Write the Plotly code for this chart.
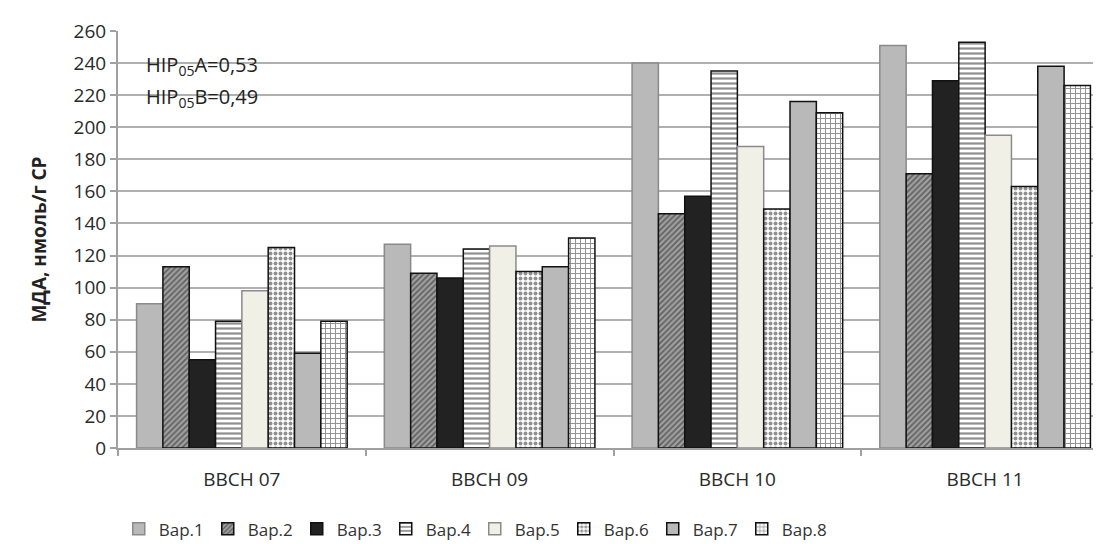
import plotly.graph_objects as go

categories = ["BBCH 07", "BBCH 09", "BBCH 10", "BBCH 11"]
series_names = ["Вар.1", "Вар.2", "Вар.3", "Вар.4", "Вар.5", "Вар.6", "Вар.7", "Вар.8"]

var1 = [90, 127, 240, 251]
var2 = [113, 109, 146, 171]
var3 = [55, 106, 157, 229]
var4 = [79, 124, 235, 253]
var5 = [98, 126, 188, 195]
var6 = [125, 110, 149, 163]
var7 = [59, 113, 216, 238]
var8 = [79, 131, 209, 226]
values = [var1, var2, var3, var4, var5, var6, var7, var8]

y_ticks = list(range(0, 261, 20))

styles = [
    dict(color="#b9b9b9", line=dict(color="#8a8a8a", width=1.5)),
    dict(color="#7a7a7a", line=dict(color="#111111", width=1.5),
         pattern=dict(shape="/", fgcolor="#222222", bgcolor="#a0a0a0", size=4, solidity=0.45)),
    dict(color="#222222", line=dict(color="#111111", width=1.5)),
    dict(color="#ffffff", line=dict(color="#111111", width=1.5),
         pattern=dict(shape="-", fgcolor="#222222", bgcolor="#ffffff", size=5, solidity=0.45)),
    dict(color="#f1f0e6", line=dict(color="#8a8a8a", width=1.5)),
    dict(color="#ffffff", line=dict(color="#111111", width=1.5),
         pattern=dict(shape=".", fgcolor="#222222", bgcolor="#ffffff", size=5, solidity=0.5)),
    dict(color="#b9b9b9", line=dict(color="#111111", width=1.5)),
    dict(color="#ffffff", line=dict(color="#111111", width=1.5),
         pattern=dict(shape="+", fgcolor="#222222", bgcolor="#ffffff", size=5, solidity=0.35)),
]

fig = go.Figure()
for name, vals, st in zip(series_names, values, styles):
    fig.add_trace(go.Bar(x=categories, y=vals, name=name, marker=st))

font_family = "Open Sans"

fig.update_layout(
    width=1101, height=544,
    margin=dict(l=110, r=0, t=23, b=104),
    barmode="group", bargap=0.15, bargroupgap=0,
    plot_bgcolor="white", paper_bgcolor="white",
    font=dict(family=font_family, color="#333333", size=16),
    legend=dict(orientation="h", x=0.36, xanchor="center", y=-0.195, yanchor="middle",
                font=dict(size=17, color="#333333"), itemwidth=30, entrywidth=44,
                traceorder="normal"),
    annotations=[
        dict(text="HIP<sub>05</sub>A=0,53", x=0.026, y=0.918, xref="paper", yref="paper",
             xanchor="left", yanchor="middle", showarrow=False,
             font=dict(size=20, color="#222222")),
        dict(text="HIP<sub>05</sub>B=0,49", x=0.026, y=0.84, xref="paper", yref="paper",
             xanchor="left", yanchor="middle", showarrow=False,
             font=dict(size=20, color="#222222")),
    ],
)

fig.update_yaxes(
    range=[0, 260], tickvals=y_ticks, ticktext=[str(v) for v in y_ticks],
    showgrid=True, gridcolor="#b0b0b0", gridwidth=2,
    showline=True, linecolor="#a0a0a0", linewidth=2,
    ticks="outside", ticklen=6, tickcolor="#a0a0a0", tickwidth=2,
    tickfont=dict(size=19, color="#2a2a2a"),
    title=dict(text="<b>МДА, нмоль/г СР</b>", font=dict(size=19, color="#222222"), standoff=22),
    zeroline=False,
)
fig.update_xaxes(
    showline=True, linecolor="#a0a0a0", linewidth=2,
    ticks="outside", tickson="boundaries", ticklen=6, tickcolor="#a0a0a0", tickwidth=2,
    tickfont=dict(size=19, color="#2a2a2a"), ticklabelstandoff=13,
)

fig.write_html("out.html")
